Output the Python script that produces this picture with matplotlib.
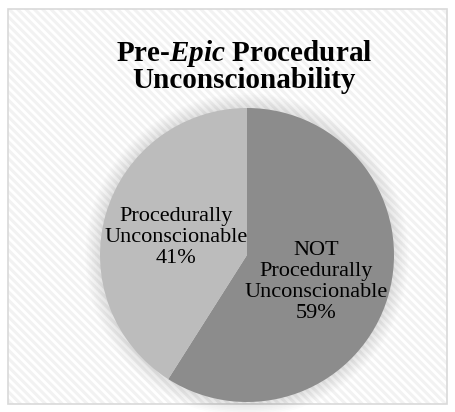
import matplotlib
matplotlib.use("Agg")
import matplotlib.pyplot as plt
from matplotlib.patches import Rectangle, Circle
import numpy as np

categories = ["NOT\nProcedurally\nUnconscionable", "Procedurally\nUnconscionable"]
values = [59, 41]
colors = ["#8c8c8c", "#bcbcbc"]
title_lines = ["Pre-$\\mathit{Epic}$ Procedural", "Unconscionability"]

plt.rcParams['mathtext.fontset'] = 'custom'
plt.rcParams['mathtext.it'] = 'Liberation Serif:italic:bold'
plt.rcParams['mathtext.rm'] = 'Liberation Serif:bold'
plt.rcParams['hatch.linewidth'] = 2.2

W, H = 455, 412
fig = plt.figure(figsize=(W / 100, H / 100), dpi=100)
fig.patch.set_facecolor("white")

# chart area frame with diagonal stripes
x0, y0, x1, y1 = 8, 9, 447, 404
rect = Rectangle((x0 / W, 1 - y1 / H), (x1 - x0) / W, (y1 - y0) / H,
                 transform=fig.transFigure, facecolor="white",
                 edgecolor="#f2f2f2", hatch="\\\\\\\\", linewidth=0, zorder=-3)
fig.patches.append(rect)
border = Rectangle((x0 / W, 1 - y1 / H), (x1 - x0) / W, (y1 - y0) / H,
                   transform=fig.transFigure, facecolor="none",
                   edgecolor="#d9d9d9", linewidth=1.2, zorder=-2)
fig.patches.append(border)

# pie axes
cx, cy, r = 247, 255, 147
ax = fig.add_axes([(cx - r) / W, (H - cy - r) / H, 2 * r / W, 2 * r / H])
ax.set_facecolor("none")
ax.axis("off")
ax.set_zorder(1)

# soft glow around the pie
for rr in np.linspace(1.10, 1.0, 10):
    ax.add_patch(Circle((0, 0), rr, facecolor="#000000", alpha=0.012,
                        linewidth=0, zorder=0, clip_on=False))

wedges, _ = ax.pie(values, colors=colors, startangle=90, counterclock=False,
                   radius=1, wedgeprops=dict(linewidth=0), labels=None)
for w in wedges:
    w.set_zorder(2)

dists = [0.49, 0.50]
yshift = [-0.045, -0.02]
for w, cat, v, d, dy in zip(wedges, categories, values, dists, yshift):
    ang = np.deg2rad((w.theta1 + w.theta2) / 2)
    ax.text(d * np.cos(ang), d * np.sin(ang) + dy,
            f"{cat}\n{v}%", ha="center", va="center",
            fontsize=16, family="Liberation Serif", color="black",
            linespacing=1.15, zorder=3)

ax.set_xlim(-1, 1)
ax.set_ylim(-1, 1)
ax.set_aspect("equal")

fig.text(244 / W, 1 - 66 / H, "\n".join(title_lines), ha="center", va="center",
         fontsize=21, family="Liberation Serif", fontweight="bold",
         linespacing=0.95)

fig.savefig("out.png", dpi=100, facecolor="white")
